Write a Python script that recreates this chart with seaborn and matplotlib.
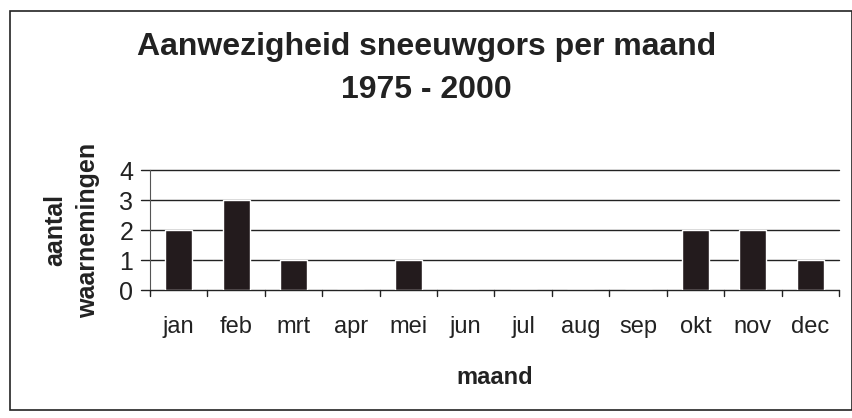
import matplotlib
matplotlib.use("Agg")
import matplotlib.pyplot as plt
import seaborn as sns
import pandas as pd
from matplotlib.patches import Rectangle

# ---------------- DATA ----------------
months = ["jan", "feb", "mrt", "apr", "mei", "jun", "jul", "aug", "sep", "okt", "nov", "dec"]
counts = [2, 3, 1, 0, 1, 0, 0, 0, 0, 2, 2, 1]
yticks = [0, 1, 2, 3, 4]

df = pd.DataFrame({"maand": months, "aantal": counts})

sns.set_style("white")
plt.rcParams["font.family"] = ["Liberation Sans", "DejaVu Sans"]

fig = plt.figure(figsize=(8.53, 4.18), dpi=100)
ax = fig.add_axes([150 / 853, 1 - 290 / 418, (839 - 150) / 853, 120 / 418])

sns.barplot(data=df, x="maand", y="aantal", color="#231b1d", width=0.47,
            saturation=1, ax=ax, zorder=3)

# ---------------- AXES ----------------
ax.set_ylim(0, 4)
ax.set_xlim(-0.5, len(months) - 0.5)
ax.set_yticks(yticks)
ax.set_yticklabels([str(t) for t in yticks], fontsize=18, color="#222222")
ax.set_xticks(range(len(months)))
ax.set_xticklabels(months, fontsize=17, color="#222222")
ax.tick_params(axis="x", length=0, pad=19)
ax.tick_params(axis="y", length=0, pad=12)

# category boundary ticks along x axis
for b in [i - 0.5 for i in range(len(months) + 1)]:
    ax.plot([b, b], [0, -0.2], color="#222222", lw=1, clip_on=False, zorder=4)

# gridlines with small stubs left of the axis
for t in yticks:
    ax.plot([-0.65, len(months) - 0.5], [t, t], color="#222222", lw=1,
            clip_on=False, zorder=2)

for s in ["top", "right"]:
    ax.spines[s].set_visible(False)
ax.spines["left"].set_color("#555555")
ax.spines["left"].set_linewidth(0.8)
ax.spines["bottom"].set_visible(False)

ax.set_xlabel("maand", fontsize=17, fontweight="bold", labelpad=20, color="#222222")
ax.set_ylabel("aantal\nwaarnemingen", fontsize=18, fontweight="bold", labelpad=14,
              linespacing=1.45, color="#222222")

fig.text(0.5, 1 - 47 / 418, "Aanwezigheid sneeuwgors per maand", ha="center",
         va="center", fontsize=23, fontweight="bold", color="#222222")
fig.text(0.5, 1 - 90 / 418, "1975 - 2000", ha="center", va="center",
         fontsize=23, fontweight="bold", color="#222222")

# outer frame
fig.patches.append(Rectangle((10 / 853, 1 - 410 / 418), 842 / 853, 399 / 418,
                             transform=fig.transFigure, fill=False,
                             edgecolor="#222222", lw=1.2))

fig.savefig("out.png", dpi=100)
